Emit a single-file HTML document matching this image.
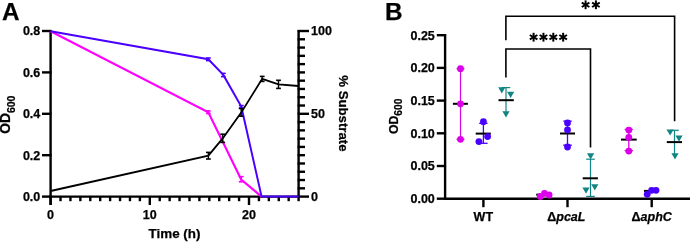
<!DOCTYPE html>
<html><head><meta charset="utf-8"><style>
html,body{margin:0;padding:0;background:#fff;width:690px;height:242px;overflow:hidden}
svg{display:block;will-change:transform}
</style></head><body>
<svg width="690" height="242" viewBox="0 0 690 242" shape-rendering="auto">
<text x="1.90" y="20.40" font-size="24.3" text-anchor="start" stroke="#000" stroke-width="0.25"  style="font-family:'Liberation Sans',sans-serif;font-weight:bold;">A</text>
<line x1="50.60" y1="30.20" x2="50.60" y2="205.00" stroke="#000" stroke-width="2.4" />
<line x1="42.00" y1="196.60" x2="51.60" y2="196.60" stroke="#000" stroke-width="2.4" />
<text x="40.30" y="200.90" font-size="12.5" text-anchor="end" stroke="#000" stroke-width="0.25"  style="font-family:'Liberation Sans',sans-serif;font-weight:bold;">0.0</text>
<line x1="42.00" y1="155.20" x2="51.60" y2="155.20" stroke="#000" stroke-width="2.4" />
<text x="40.30" y="159.50" font-size="12.5" text-anchor="end" stroke="#000" stroke-width="0.25"  style="font-family:'Liberation Sans',sans-serif;font-weight:bold;">0.2</text>
<line x1="42.00" y1="113.80" x2="51.60" y2="113.80" stroke="#000" stroke-width="2.4" />
<text x="40.30" y="118.10" font-size="12.5" text-anchor="end" stroke="#000" stroke-width="0.25"  style="font-family:'Liberation Sans',sans-serif;font-weight:bold;">0.4</text>
<line x1="42.00" y1="72.40" x2="51.60" y2="72.40" stroke="#000" stroke-width="2.4" />
<text x="40.30" y="76.70" font-size="12.5" text-anchor="end" stroke="#000" stroke-width="0.25"  style="font-family:'Liberation Sans',sans-serif;font-weight:bold;">0.6</text>
<line x1="42.00" y1="31.00" x2="51.60" y2="31.00" stroke="#000" stroke-width="2.4" />
<text x="40.30" y="35.30" font-size="12.5" text-anchor="end" stroke="#000" stroke-width="0.25"  style="font-family:'Liberation Sans',sans-serif;font-weight:bold;">0.8</text>
<line x1="49.60" y1="196.60" x2="299.60" y2="196.60" stroke="#000" stroke-width="2.4" />
<line x1="60.52" y1="196.60" x2="60.52" y2="201.20" stroke="#000" stroke-width="2.4" />
<line x1="70.44" y1="196.60" x2="70.44" y2="201.20" stroke="#000" stroke-width="2.4" />
<line x1="80.36" y1="196.60" x2="80.36" y2="201.20" stroke="#000" stroke-width="2.4" />
<line x1="90.28" y1="196.60" x2="90.28" y2="201.20" stroke="#000" stroke-width="2.4" />
<line x1="100.20" y1="196.60" x2="100.20" y2="201.20" stroke="#000" stroke-width="2.4" />
<line x1="110.12" y1="196.60" x2="110.12" y2="201.20" stroke="#000" stroke-width="2.4" />
<line x1="120.04" y1="196.60" x2="120.04" y2="201.20" stroke="#000" stroke-width="2.4" />
<line x1="129.96" y1="196.60" x2="129.96" y2="201.20" stroke="#000" stroke-width="2.4" />
<line x1="139.88" y1="196.60" x2="139.88" y2="201.20" stroke="#000" stroke-width="2.4" />
<line x1="159.72" y1="196.60" x2="159.72" y2="201.20" stroke="#000" stroke-width="2.4" />
<line x1="169.64" y1="196.60" x2="169.64" y2="201.20" stroke="#000" stroke-width="2.4" />
<line x1="179.56" y1="196.60" x2="179.56" y2="201.20" stroke="#000" stroke-width="2.4" />
<line x1="189.48" y1="196.60" x2="189.48" y2="201.20" stroke="#000" stroke-width="2.4" />
<line x1="199.40" y1="196.60" x2="199.40" y2="201.20" stroke="#000" stroke-width="2.4" />
<line x1="209.32" y1="196.60" x2="209.32" y2="201.20" stroke="#000" stroke-width="2.4" />
<line x1="219.24" y1="196.60" x2="219.24" y2="201.20" stroke="#000" stroke-width="2.4" />
<line x1="229.16" y1="196.60" x2="229.16" y2="201.20" stroke="#000" stroke-width="2.4" />
<line x1="239.08" y1="196.60" x2="239.08" y2="201.20" stroke="#000" stroke-width="2.4" />
<line x1="258.92" y1="196.60" x2="258.92" y2="201.20" stroke="#000" stroke-width="2.4" />
<line x1="268.84" y1="196.60" x2="268.84" y2="201.20" stroke="#000" stroke-width="2.4" />
<line x1="278.76" y1="196.60" x2="278.76" y2="201.20" stroke="#000" stroke-width="2.4" />
<line x1="288.68" y1="196.60" x2="288.68" y2="201.20" stroke="#000" stroke-width="2.4" />
<line x1="50.60" y1="196.60" x2="50.60" y2="205.00" stroke="#000" stroke-width="2.4" />
<text x="50.60" y="218.80" font-size="12.5" text-anchor="middle" stroke="#000" stroke-width="0.25"  style="font-family:'Liberation Sans',sans-serif;font-weight:bold;">0</text>
<line x1="149.80" y1="196.60" x2="149.80" y2="205.00" stroke="#000" stroke-width="2.4" />
<text x="149.80" y="218.80" font-size="12.5" text-anchor="middle" stroke="#000" stroke-width="0.25"  style="font-family:'Liberation Sans',sans-serif;font-weight:bold;">10</text>
<line x1="249.00" y1="196.60" x2="249.00" y2="205.00" stroke="#000" stroke-width="2.4" />
<text x="249.00" y="218.80" font-size="12.5" text-anchor="middle" stroke="#000" stroke-width="0.25"  style="font-family:'Liberation Sans',sans-serif;font-weight:bold;">20</text>
<text x="174.50" y="238.20" font-size="13.4" text-anchor="middle" stroke="#000" stroke-width="0.25"  style="font-family:'Liberation Sans',sans-serif;font-weight:bold;">Time (h)</text>
<line x1="298.60" y1="30.20" x2="298.60" y2="201.20" stroke="#000" stroke-width="2.4" />
<line x1="297.60" y1="196.60" x2="309.00" y2="196.60" stroke="#000" stroke-width="2.4" />
<line x1="297.60" y1="188.32" x2="305.00" y2="188.32" stroke="#000" stroke-width="2.4" />
<line x1="297.60" y1="180.04" x2="305.00" y2="180.04" stroke="#000" stroke-width="2.4" />
<line x1="297.60" y1="171.76" x2="305.00" y2="171.76" stroke="#000" stroke-width="2.4" />
<line x1="297.60" y1="163.48" x2="305.00" y2="163.48" stroke="#000" stroke-width="2.4" />
<line x1="297.60" y1="155.20" x2="305.00" y2="155.20" stroke="#000" stroke-width="2.4" />
<line x1="297.60" y1="146.92" x2="305.00" y2="146.92" stroke="#000" stroke-width="2.4" />
<line x1="297.60" y1="138.64" x2="305.00" y2="138.64" stroke="#000" stroke-width="2.4" />
<line x1="297.60" y1="130.36" x2="305.00" y2="130.36" stroke="#000" stroke-width="2.4" />
<line x1="297.60" y1="122.08" x2="305.00" y2="122.08" stroke="#000" stroke-width="2.4" />
<line x1="297.60" y1="113.80" x2="309.00" y2="113.80" stroke="#000" stroke-width="2.4" />
<line x1="297.60" y1="105.52" x2="305.00" y2="105.52" stroke="#000" stroke-width="2.4" />
<line x1="297.60" y1="97.24" x2="305.00" y2="97.24" stroke="#000" stroke-width="2.4" />
<line x1="297.60" y1="88.96" x2="305.00" y2="88.96" stroke="#000" stroke-width="2.4" />
<line x1="297.60" y1="80.68" x2="305.00" y2="80.68" stroke="#000" stroke-width="2.4" />
<line x1="297.60" y1="72.40" x2="305.00" y2="72.40" stroke="#000" stroke-width="2.4" />
<line x1="297.60" y1="64.12" x2="305.00" y2="64.12" stroke="#000" stroke-width="2.4" />
<line x1="297.60" y1="55.84" x2="305.00" y2="55.84" stroke="#000" stroke-width="2.4" />
<line x1="297.60" y1="47.56" x2="305.00" y2="47.56" stroke="#000" stroke-width="2.4" />
<line x1="297.60" y1="39.28" x2="305.00" y2="39.28" stroke="#000" stroke-width="2.4" />
<line x1="297.60" y1="31.00" x2="309.00" y2="31.00" stroke="#000" stroke-width="2.4" />
<text x="311.00" y="200.90" font-size="12.5" text-anchor="start" stroke="#000" stroke-width="0.25"  style="font-family:'Liberation Sans',sans-serif;font-weight:bold;">0</text>
<text x="311.00" y="118.10" font-size="12.5" text-anchor="start" stroke="#000" stroke-width="0.25"  style="font-family:'Liberation Sans',sans-serif;font-weight:bold;">50</text>
<text x="311.00" y="35.30" font-size="12.5" text-anchor="start" stroke="#000" stroke-width="0.25"  style="font-family:'Liberation Sans',sans-serif;font-weight:bold;">100</text>
<text transform="translate(338.9,113.4) rotate(90)" font-size="13.2" text-anchor="middle" stroke="#000" stroke-width="0.25" style="font-family:'Liberation Sans',sans-serif;font-weight:bold;">% Substrate</text>
<polyline points="50.60,31.20 208.30,112.20 241.20,179.50 261.60,196.60" fill="none" stroke="#ff00ff" stroke-width="2.1" stroke-linejoin="miter"/>
<polyline points="50.60,31.20 208.30,59.30 223.30,74.90 241.30,106.50 261.60,196.60 298.60,196.60" fill="none" stroke="#4a00ff" stroke-width="2.0" stroke-linejoin="miter"/>
<polyline points="50.60,191.00 208.40,155.60 222.70,138.40 241.20,112.60 262.20,78.80 278.50,84.40 298.60,86.00" fill="none" stroke="#000" stroke-width="1.8" stroke-linejoin="miter"/>
<line x1="208.30" y1="58.00" x2="208.30" y2="60.60" stroke="#4a00ff" stroke-width="1.4" />
<line x1="205.90" y1="58.00" x2="210.70" y2="58.00" stroke="#4a00ff" stroke-width="1.6" />
<line x1="205.90" y1="60.60" x2="210.70" y2="60.60" stroke="#4a00ff" stroke-width="1.6" />
<line x1="223.30" y1="73.40" x2="223.30" y2="76.60" stroke="#4a00ff" stroke-width="1.4" />
<line x1="220.90" y1="73.40" x2="225.70" y2="73.40" stroke="#4a00ff" stroke-width="1.6" />
<line x1="220.90" y1="76.60" x2="225.70" y2="76.60" stroke="#4a00ff" stroke-width="1.6" />
<line x1="241.30" y1="105.60" x2="241.30" y2="108.00" stroke="#4a00ff" stroke-width="1.4" />
<line x1="238.90" y1="105.60" x2="243.70" y2="105.60" stroke="#4a00ff" stroke-width="1.6" />
<line x1="238.90" y1="108.00" x2="243.70" y2="108.00" stroke="#4a00ff" stroke-width="1.6" />
<line x1="208.30" y1="110.90" x2="208.30" y2="113.50" stroke="#ff00ff" stroke-width="1.4" />
<line x1="205.90" y1="110.90" x2="210.70" y2="110.90" stroke="#ff00ff" stroke-width="1.6" />
<line x1="205.90" y1="113.50" x2="210.70" y2="113.50" stroke="#ff00ff" stroke-width="1.6" />
<line x1="241.20" y1="176.70" x2="241.20" y2="181.80" stroke="#ff00ff" stroke-width="1.4" />
<line x1="238.80" y1="176.70" x2="243.60" y2="176.70" stroke="#ff00ff" stroke-width="1.6" />
<line x1="238.80" y1="181.80" x2="243.60" y2="181.80" stroke="#ff00ff" stroke-width="1.6" />
<line x1="208.40" y1="152.40" x2="208.40" y2="159.00" stroke="#000" stroke-width="1.4" />
<line x1="206.00" y1="152.40" x2="210.80" y2="152.40" stroke="#000" stroke-width="1.6" />
<line x1="206.00" y1="159.00" x2="210.80" y2="159.00" stroke="#000" stroke-width="1.6" />
<line x1="222.70" y1="134.20" x2="222.70" y2="142.40" stroke="#000" stroke-width="1.4" />
<line x1="220.30" y1="134.20" x2="225.10" y2="134.20" stroke="#000" stroke-width="1.6" />
<line x1="220.30" y1="142.40" x2="225.10" y2="142.40" stroke="#000" stroke-width="1.6" />
<line x1="241.20" y1="108.50" x2="241.20" y2="116.20" stroke="#000" stroke-width="1.4" />
<line x1="238.80" y1="108.50" x2="243.60" y2="108.50" stroke="#000" stroke-width="1.6" />
<line x1="238.80" y1="116.20" x2="243.60" y2="116.20" stroke="#000" stroke-width="1.6" />
<line x1="262.20" y1="76.40" x2="262.20" y2="81.40" stroke="#000" stroke-width="1.4" />
<line x1="259.80" y1="76.40" x2="264.60" y2="76.40" stroke="#000" stroke-width="1.6" />
<line x1="259.80" y1="81.40" x2="264.60" y2="81.40" stroke="#000" stroke-width="1.6" />
<line x1="278.50" y1="80.30" x2="278.50" y2="88.40" stroke="#000" stroke-width="1.4" />
<line x1="276.10" y1="80.30" x2="280.90" y2="80.30" stroke="#000" stroke-width="1.6" />
<line x1="276.10" y1="88.40" x2="280.90" y2="88.40" stroke="#000" stroke-width="1.6" />
<text x="385.00" y="20.40" font-size="24.3" text-anchor="start" stroke="#000" stroke-width="0.25"  style="font-family:'Liberation Sans',sans-serif;font-weight:bold;">B</text>
<line x1="445.10" y1="34.20" x2="445.10" y2="199.70" stroke="#000" stroke-width="2.4" />
<line x1="436.80" y1="198.70" x2="446.10" y2="198.70" stroke="#000" stroke-width="2.4" />
<text x="434.80" y="203.00" font-size="12.5" text-anchor="end" stroke="#000" stroke-width="0.25"  style="font-family:'Liberation Sans',sans-serif;font-weight:bold;">0.00</text>
<line x1="436.80" y1="166.00" x2="446.10" y2="166.00" stroke="#000" stroke-width="2.4" />
<text x="434.80" y="170.30" font-size="12.5" text-anchor="end" stroke="#000" stroke-width="0.25"  style="font-family:'Liberation Sans',sans-serif;font-weight:bold;">0.05</text>
<line x1="436.80" y1="133.30" x2="446.10" y2="133.30" stroke="#000" stroke-width="2.4" />
<text x="434.80" y="137.60" font-size="12.5" text-anchor="end" stroke="#000" stroke-width="0.25"  style="font-family:'Liberation Sans',sans-serif;font-weight:bold;">0.10</text>
<line x1="436.80" y1="100.60" x2="446.10" y2="100.60" stroke="#000" stroke-width="2.4" />
<text x="434.80" y="104.90" font-size="12.5" text-anchor="end" stroke="#000" stroke-width="0.25"  style="font-family:'Liberation Sans',sans-serif;font-weight:bold;">0.15</text>
<line x1="436.80" y1="67.90" x2="446.10" y2="67.90" stroke="#000" stroke-width="2.4" />
<text x="434.80" y="72.20" font-size="12.5" text-anchor="end" stroke="#000" stroke-width="0.25"  style="font-family:'Liberation Sans',sans-serif;font-weight:bold;">0.20</text>
<line x1="436.80" y1="35.20" x2="446.10" y2="35.20" stroke="#000" stroke-width="2.4" />
<text x="434.80" y="39.50" font-size="12.5" text-anchor="end" stroke="#000" stroke-width="0.25"  style="font-family:'Liberation Sans',sans-serif;font-weight:bold;">0.25</text>
<line x1="444.10" y1="198.70" x2="690.00" y2="198.70" stroke="#000" stroke-width="2.4" />
<line x1="483.40" y1="198.70" x2="483.40" y2="207.20" stroke="#000" stroke-width="2.4" />
<line x1="567.50" y1="198.70" x2="567.50" y2="207.20" stroke="#000" stroke-width="2.4" />
<line x1="651.70" y1="198.70" x2="651.70" y2="207.20" stroke="#000" stroke-width="2.4" />
<text x="483.30" y="220.50" font-size="12.5" text-anchor="middle" stroke="#000" stroke-width="0.25"  style="font-family:'Liberation Sans',sans-serif;font-weight:bold;">WT</text>
<text x="547.30" y="220.50" font-size="12.5" text-anchor="start" stroke="#000" stroke-width="0.25"  style="font-family:'Liberation Sans',sans-serif;font-weight:bold;">Δ<tspan font-style="italic">pcaL</tspan></text>
<text x="631.60" y="220.50" font-size="12.5" text-anchor="start" stroke="#000" stroke-width="0.25"  style="font-family:'Liberation Sans',sans-serif;font-weight:bold;">Δ<tspan font-style="italic">aphC</tspan></text>
<polyline points="505.90,40.20 505.90,16.20 674.60,16.20 674.60,121.20" fill="none" stroke="#000" stroke-width="1.6" stroke-linejoin="miter"/>
<polyline points="505.90,77.50 505.90,49.00 590.50,49.00 590.50,147.40" fill="none" stroke="#000" stroke-width="1.6" stroke-linejoin="miter"/>
<line x1="533.60" y1="32.80" x2="533.60" y2="41.60" stroke="#000" stroke-width="2.0" />
<line x1="529.79" y1="35.00" x2="537.41" y2="39.40" stroke="#000" stroke-width="2.0" />
<line x1="537.41" y1="35.00" x2="529.79" y2="39.40" stroke="#000" stroke-width="2.0" />
<line x1="543.45" y1="32.80" x2="543.45" y2="41.60" stroke="#000" stroke-width="2.0" />
<line x1="539.64" y1="35.00" x2="547.26" y2="39.40" stroke="#000" stroke-width="2.0" />
<line x1="547.26" y1="35.00" x2="539.64" y2="39.40" stroke="#000" stroke-width="2.0" />
<line x1="553.30" y1="32.80" x2="553.30" y2="41.60" stroke="#000" stroke-width="2.0" />
<line x1="549.49" y1="35.00" x2="557.11" y2="39.40" stroke="#000" stroke-width="2.0" />
<line x1="557.11" y1="35.00" x2="549.49" y2="39.40" stroke="#000" stroke-width="2.0" />
<line x1="563.15" y1="32.80" x2="563.15" y2="41.60" stroke="#000" stroke-width="2.0" />
<line x1="559.34" y1="35.00" x2="566.96" y2="39.40" stroke="#000" stroke-width="2.0" />
<line x1="566.96" y1="35.00" x2="559.34" y2="39.40" stroke="#000" stroke-width="2.0" />
<line x1="585.60" y1="0.40" x2="585.60" y2="9.20" stroke="#000" stroke-width="2.0" />
<line x1="581.79" y1="2.60" x2="589.41" y2="7.00" stroke="#000" stroke-width="2.0" />
<line x1="589.41" y1="2.60" x2="581.79" y2="7.00" stroke="#000" stroke-width="2.0" />
<line x1="595.90" y1="0.40" x2="595.90" y2="9.20" stroke="#000" stroke-width="2.0" />
<line x1="592.09" y1="2.60" x2="599.71" y2="7.00" stroke="#000" stroke-width="2.0" />
<line x1="599.71" y1="2.60" x2="592.09" y2="7.00" stroke="#000" stroke-width="2.0" />
<line x1="460.50" y1="68.70" x2="460.50" y2="139.30" stroke="#dc00ea" stroke-width="1.2" />
<line x1="456.50" y1="68.70" x2="464.50" y2="68.70" stroke="#dc00ea" stroke-width="1.2" />
<line x1="456.50" y1="139.30" x2="464.50" y2="139.30" stroke="#dc00ea" stroke-width="1.2" />
<line x1="452.90" y1="103.80" x2="467.90" y2="103.80" stroke="#000" stroke-width="2" />
<circle cx="460.50" cy="68.70" r="3.4" fill="#dc00ea"/>
<circle cx="460.50" cy="103.80" r="3.4" fill="#dc00ea"/>
<circle cx="460.50" cy="139.30" r="3.4" fill="#dc00ea"/>
<line x1="483.40" y1="123.30" x2="483.40" y2="143.30" stroke="#4a00ff" stroke-width="1.3" />
<line x1="479.20" y1="123.30" x2="487.60" y2="123.30" stroke="#4a00ff" stroke-width="1.3" />
<line x1="479.20" y1="143.30" x2="487.60" y2="143.30" stroke="#4a00ff" stroke-width="1.3" />
<line x1="475.70" y1="133.60" x2="490.80" y2="133.60" stroke="#000" stroke-width="2" />
<circle cx="483.40" cy="121.70" r="3.4" fill="#4a00ff"/>
<circle cx="478.90" cy="141.60" r="3.4" fill="#4a00ff"/>
<circle cx="487.60" cy="136.60" r="3.4" fill="#4a00ff"/>
<line x1="506.00" y1="87.60" x2="506.00" y2="113.00" stroke="#128482" stroke-width="1.2" />
<line x1="501.80" y1="87.60" x2="510.20" y2="87.60" stroke="#128482" stroke-width="1.2" />
<line x1="498.50" y1="100.20" x2="513.80" y2="100.20" stroke="#000" stroke-width="2" />
<polygon points="498.20,87.30 505.40,87.30 501.80,93.50" fill="#128482"/>
<polygon points="507.00,91.80 514.20,91.80 510.60,98.00" fill="#128482"/>
<polygon points="502.40,111.30 509.60,111.30 506.00,117.50" fill="#128482"/>
<line x1="536.20" y1="194.70" x2="551.50" y2="194.70" stroke="#000" stroke-width="2" />
<circle cx="540.30" cy="196.50" r="3.4" fill="#dc00ea"/>
<circle cx="549.10" cy="195.00" r="3.4" fill="#dc00ea"/>
<circle cx="544.50" cy="193.40" r="3.4" fill="#dc00ea"/>
<line x1="567.50" y1="121.10" x2="567.50" y2="145.20" stroke="#4a00ff" stroke-width="1.3" />
<line x1="563.30" y1="121.10" x2="571.70" y2="121.10" stroke="#4a00ff" stroke-width="1.3" />
<line x1="563.20" y1="145.20" x2="571.80" y2="145.20" stroke="#4a00ff" stroke-width="1.3" />
<line x1="560.00" y1="133.50" x2="575.00" y2="133.50" stroke="#000" stroke-width="2" />
<circle cx="567.50" cy="122.90" r="3.4" fill="#4a00ff"/>
<circle cx="567.50" cy="129.90" r="3.4" fill="#4a00ff"/>
<circle cx="567.50" cy="147.00" r="3.4" fill="#4a00ff"/>
<line x1="590.50" y1="159.20" x2="590.50" y2="196.40" stroke="#128482" stroke-width="1.2" />
<line x1="586.20" y1="159.20" x2="594.80" y2="159.20" stroke="#128482" stroke-width="1.2" />
<line x1="586.20" y1="196.40" x2="594.80" y2="196.40" stroke="#128482" stroke-width="1.2" />
<line x1="582.70" y1="178.30" x2="597.90" y2="178.30" stroke="#000" stroke-width="2" />
<polygon points="587.00,153.20 594.20,153.20 590.60,159.40" fill="#128482"/>
<polygon points="582.40,187.60 589.60,187.60 586.00,193.80" fill="#128482"/>
<polygon points="591.20,184.20 598.40,184.20 594.80,190.40" fill="#128482"/>
<line x1="628.80" y1="129.40" x2="628.80" y2="150.60" stroke="#dc00ea" stroke-width="1.3" />
<line x1="624.70" y1="129.40" x2="632.90" y2="129.40" stroke="#dc00ea" stroke-width="1.3" />
<line x1="624.60" y1="150.60" x2="633.00" y2="150.60" stroke="#dc00ea" stroke-width="1.3" />
<line x1="621.00" y1="139.60" x2="636.70" y2="139.60" stroke="#000" stroke-width="2" />
<circle cx="628.80" cy="130.10" r="3.4" fill="#dc00ea"/>
<circle cx="628.80" cy="137.50" r="3.4" fill="#dc00ea"/>
<circle cx="628.80" cy="151.10" r="3.4" fill="#dc00ea"/>
<line x1="644.00" y1="190.90" x2="659.00" y2="190.90" stroke="#000" stroke-width="2" />
<circle cx="647.20" cy="194.30" r="3.4" fill="#4a00ff"/>
<circle cx="651.60" cy="190.30" r="3.4" fill="#4a00ff"/>
<circle cx="656.00" cy="190.30" r="3.4" fill="#4a00ff"/>
<line x1="674.50" y1="130.30" x2="674.50" y2="155.00" stroke="#128482" stroke-width="1.2" />
<line x1="670.50" y1="130.30" x2="678.80" y2="130.30" stroke="#128482" stroke-width="1.2" />
<line x1="666.80" y1="142.10" x2="682.00" y2="142.10" stroke="#000" stroke-width="2" />
<polygon points="666.50,129.40 673.70,129.40 670.10,135.60" fill="#128482"/>
<polygon points="675.40,135.50 682.60,135.50 679.00,141.70" fill="#128482"/>
<polygon points="671.40,153.20 678.60,153.20 675.00,159.40" fill="#128482"/>
<text transform="translate(9.70,114.70) rotate(-90)" font-size="13.8" text-anchor="middle" stroke="#000" stroke-width="0.25" style="font-family:'Liberation Sans',sans-serif;font-weight:bold;">OD<tspan font-size="10.5" dy="5.0">600</tspan></text>
<text transform="translate(398.20,116.40) rotate(-90)" font-size="12.3" text-anchor="middle" stroke="#000" stroke-width="0.25" style="font-family:'Liberation Sans',sans-serif;font-weight:bold;">OD<tspan font-size="10.2" dy="4.2">600</tspan></text>
</svg>
</body></html>
